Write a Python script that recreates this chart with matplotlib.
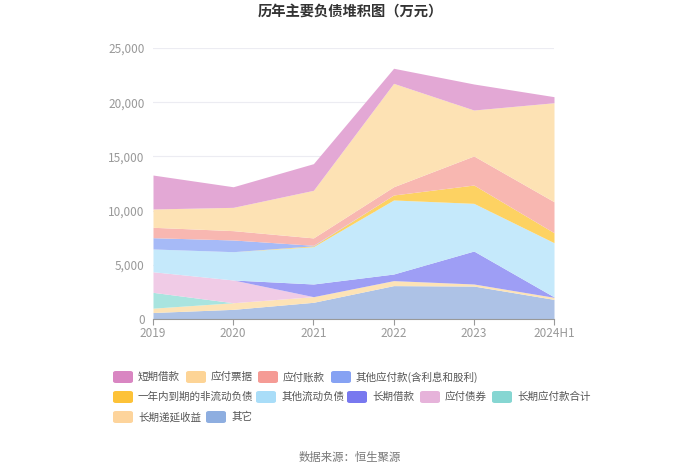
import matplotlib
matplotlib.use("Agg")
import matplotlib.pyplot as plt
from matplotlib.patches import FancyBboxPatch
import numpy as np

plt.rcParams['font.family'] = ['Noto Sans CJK SC', 'DejaVu Sans']

years = ["2019", "2020", "2021", "2022", "2023", "2024H1"]

# values (万元), bottom to top stacking order
qita = [600, 890, 1540, 3080, 3040, 1810]               # 其它
changqi_diyan = [400, 610, 520, 460, 190, 190]          # 长期递延收益
changqi_yingfu = [1460, 0, 0, 0, 0, 0]                  # 长期应付款合计
yingfu_zhaiquan = [1900, 2100, 0, 0, 0, 0]              # 应付债券
changqi_jiekuan = [0, 0, 1170, 610, 3040, 40]           # 长期借款
qita_liudong = [2100, 2610, 3440, 6830, 4400, 5000]     # 其他流动负债
yinian_daoqi = [0, 0, 80, 460, 1690, 920]               # 一年内到期的非流动负债
qita_yingfu = [1040, 1080, 50, 0, 0, 0]                 # 其他应付款(含利息和股利)
yingfu_zhangkuan = [960, 860, 680, 760, 2680, 2860]     # 应付账款
yingfu_piaoju = [1690, 2150, 4390, 9540, 4240, 9130]    # 应付票据
duanqi_jiekuan = [3130, 1900, 2460, 1390, 2400, 560]    # 短期借款

series = [
    ("其它", qita, "#8eaee0", "#adc2e6"),
    ("长期递延收益", changqi_diyan, "#fdd49c", "#fde3b6"),
    ("长期应付款合计", changqi_yingfu, "#86d6d2", "#a9e4df"),
    ("应付债券", yingfu_zhaiquan, "#e6b3da", "#f0cbe6"),
    ("长期借款", changqi_jiekuan, "#7878ef", "#9e9ef5"),
    ("其他流动负债", qita_liudong, "#a9ddf8", "#c5e9fb"),
    ("一年内到期的非流动负债", yinian_daoqi, "#fdc238", "#fdd262"),
    ("其他应付款(含利息和股利)", qita_yingfu, "#86a2f3", "#a6baf7"),
    ("应付账款", yingfu_zhangkuan, "#f59b95", "#f8b7b1"),
    ("应付票据", yingfu_piaoju, "#fdd496", "#fde2b4"),
    ("短期借款", duanqi_jiekuan, "#d986c2", "#e3a8d5"),
]

fig = plt.figure(figsize=(7, 4.73), dpi=100)
ax = fig.add_axes([153/700, 1 - 319/473, (554-153)/700, (319-48)/473])

x = np.arange(len(years))
base = np.zeros(len(years))
for name, vals, lc, fc in series:
    top = base + np.array(vals, dtype=float)
    ax.fill_between(x, base, top, color=fc, linewidth=0)
    base = top

ax.set_xlim(0, len(years) - 1)
ax.set_ylim(0, 25000)
ax.set_yticks(np.arange(0, 25001, 5000))
ax.set_yticklabels([f"{v:,}" for v in range(0, 25001, 5000)])
ax.set_xticks(x)
ax.set_xticklabels(years)
ax.grid(axis='y', color='#ececf2', linewidth=0.8)
ax.set_axisbelow(True)
for s in ['left', 'right', 'top']:
    ax.spines[s].set_visible(False)
ax.spines['bottom'].set_color('#999999')
ax.tick_params(axis='y', length=0, labelsize=8.5, labelcolor='#999999', pad=6)
ax.tick_params(axis='x', length=4, color='#999999', labelsize=8.5, labelcolor='#999999', pad=2)

fig.text(0.5, 1 - 12/473, "历年主要负债堆积图（万元）", ha='center', va='center',
         fontsize=10.3, fontweight='bold', color='#333333')

# legend (flow layout)
legend_items = [
    ("短期借款", "#d986c2", 113, 377),
    ("应付票据", "#fdd496", 186, 377),
    ("应付账款", "#f59b95", 258, 377),
    ("其他应付款(含利息和股利)", "#86a2f3", 331, 377),
    ("一年内到期的非流动负债", "#fdc238", 113, 397),
    ("其他流动负债", "#a9ddf8", 256, 397),
    ("长期借款", "#7878ef", 347, 397),
    ("应付债券", "#e6b3da", 420, 397),
    ("长期应付款合计", "#86d6d2", 492, 397),
    ("长期递延收益", "#fdd49c", 113, 417),
    ("其它", "#8eaee0", 206, 417),
]
for name, c, px, py in legend_items:
    w, h = 20, 12
    patch = FancyBboxPatch((px/700, 1 - (py + h/2)/473), w/700, h/473,
                           boxstyle="round,pad=0,rounding_size=0.004",
                           transform=fig.transFigure, facecolor=c, edgecolor='none')
    fig.patches.append(patch)
    fig.text((px + w + 5)/700, 1 - py/473, name, ha='left', va='center',
             fontsize=7.6, color='#555555')

fig.text(0.5, 1 - 457/473, "数据来源：恒生聚源", ha='center', va='center',
         fontsize=8.2, color='#777777')

fig.savefig("out.png", dpi=100)
